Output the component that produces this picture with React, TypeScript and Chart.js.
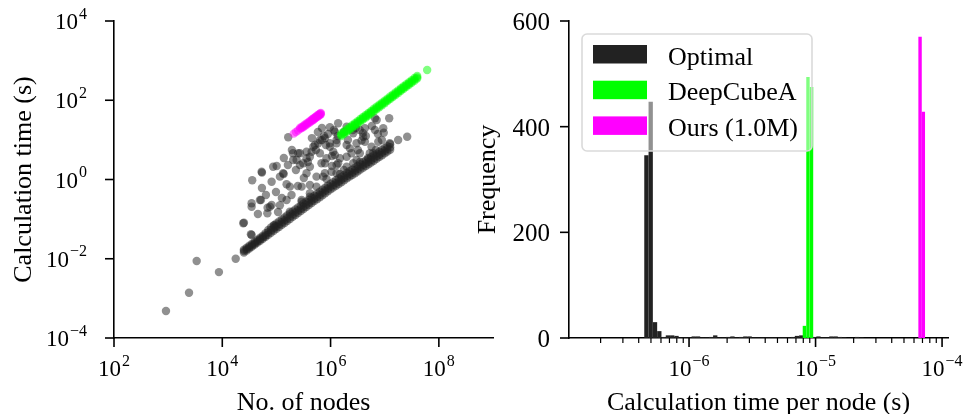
import React, { useEffect, useRef } from 'react';
import { Chart, registerables } from 'chart.js';
Chart.register(...registerables);

const FONT = '"Liberation Serif", "Times New Roman", serif';

// ---------------- Left panel: calculation time vs. number of nodes ----------------
const leftXTicks = [1e2, 1e4, 1e6, 1e8];
const leftYTicks = [1e-4, 1e-2, 1e0, 1e2, 1e4];

// Optimal: scattered points
const optimalScatterNodes = [
  912, 2430, 3365, 8670, 1.77e4, 3.38e4, 2.51e4, 3.48e4, 3.48e4, 5.18e4,
  6.87e4, 6.8e4, 8.15e4, 1.16e5, 9.1e4, 3.57e4, 5.4e4, 8.15e4, 1.01e5, 1.36e5,
  1.54e5, 1.65e5, 9.7e5, 5.9e5, 7.85e5, 9.7e5, 6.35e5, 5.13e5, 1.29e6, 1.12e6,
  4.47e5, 2.52e5, 3.12e5, 2.04e5, 3.6e5, 2.72e5, 4.15e5, 6.8e5, 8.4e5, 1.49e6,
  3.02e6, 3.95e6, 4.3e6, 3.47e6, 2.27e6, 6.6e6, 2.58e6, 1.29e6, 1.98e6, 1.04e6,
  7.85e5, 5.5e5, 3.6e5, 5.5e5, 4.15e5, 8.4e5, 1.49e6, 3.02e6, 6.1e6, 8.7e4,
  1.33e5, 5.33e4, 1.9e5, 2.92e5, 4.15e5, 4.95e4, 7.59e4, 1.77e5, 9.4e4, 2.44e4,
  3.48e4, 1.38e6, 1.98e6, 7.1e6, 1.21e7, 9.4e6, 9.6e6, 3.47e6, 4.0e6, 2.62e6,
  7.6e5, 9.7e5, 1.98e6, 3.74e6, 7.6e6, 5.7e6, 1.24e7, 1.77e7, 2.6e7, 1.2e6,
  2.44e6, 7.85e5, 1.38e6, 2.62e6, 1.29e6, 7.3e5, 4.3e6, 6.6e6, 4.8e5, 6.35e5,
  1.2e6, 5.3e6, 1.98e6, 4.15e5, 2.92e5, 4.15e5, 1.54e5, 2.02e5, 2.72e5, 2.36e5,
  3.6e5, 1.29e6, 1.16e5, 1.77e5, 2.92e5,
  5.83e5, 6.92e5, 8.93e5, 1.15e6, 4.52e5, 1.36e6, 8.2e5, 5.36e5, 1.06e6, 6.92e5,
  1.76e6, 2.09e6, 2.93e6, 4.49e6, 5.79e6, 7.48e6, 3.19e6, 4.89e6, 6.87e6, 8.85e6,
  1.93e5, 2.29e5, 3.21e5, 3.81e5, 2.49e5, 1.63e5, 1.37e5,
  5.4e4, 6.4e4, 9.8e4, 1.26e5, 4.55e4, 1.07e5,
  1.06e6, 1.76e6, 3.48e6,
];
const optimalScatterTimes = [
  4.8e-4, 1.39e-3, 8.8e-3, 4.6e-3, 1.0e-2, 0.0414, 0.0813, 0.251, 0.206, 0.304,
  0.194, 0.14, 0.227, 0.223, 0.07, 0.955, 1.49, 0.88, 2.19, 1.38,
  0.757, 11.6, 20.8, 8.2, 11.0, 6.7, 4.6, 7.4, 8.2, 5.0,
  5.0, 4.6, 2.56, 3.1, 3.43, 2.32, 2.1, 2.56, 3.43, 3.43,
  8.2, 14.9, 9.0, 4.6, 6.1, 17.7, 17.7, 2.32, 2.1, 1.57,
  1.44, 1.18, 1.44, 0.66, 0.726, 1.03, 1.38, 3.1, 4.6, 2.1,
  1.44, 1.57, 0.406, 0.304, 0.368, 0.304, 0.206, 0.154, 0.064, 0.0785,
  0.0397, 26.2, 21.5, 31.8, 35.1, 19.6, 15.2, 17.7, 12.0, 14.6,
  12.5, 8.2, 7.4, 9.6, 9.0, 6.7, 8.2, 9.9, 12.0, 4.15,
  4.6, 2.56, 2.56, 2.56, 1.44, 1.18, 19.6, 35.1, 6.7, 9.9,
  16.1, 4.6, 3.76, 3.76, 0.66, 0.449, 0.304, 4.6, 4.6, 3.1,
  5.0, 9.9, 1.18, 0.66, 0.276,
  15.8, 19.9, 14.1, 17.7, 11.1, 12.5, 7.43, 5.55, 3.92, 9.93,
  15.8, 9.93, 19.9, 12.5, 22.4, 14.1, 5.55, 3.49, 5.55, 9.93,
  5.55, 1.74, 1.09, 2.77, 0.686, 2.32, 3.49,
  0.61, 0.406, 0.484, 0.341, 0.135, 0.151,
  2.19, 1.74, 2.77,
];

// Optimal: dense band (three rows of points)
const optimalBandNodes = [
  2.51e4, 2.82e4, 3.16e4, 3.55e4, 3.98e4, 4.47e4, 5.01e4, 5.62e4, 6.31e4, 7.08e4,
  7.94e4, 8.91e4, 1.0e5, 1.12e5, 1.26e5, 1.41e5, 1.58e5, 1.78e5, 2.0e5, 2.24e5,
  2.51e5, 2.82e5, 3.16e5, 3.55e5, 3.98e5, 4.47e5, 5.01e5, 5.62e5, 6.31e5, 7.08e5,
  7.94e5, 8.91e5, 1.0e6, 1.12e6, 1.26e6, 1.41e6, 1.58e6, 1.78e6, 2.0e6, 2.24e6,
  2.51e6, 2.82e6, 3.16e6, 3.55e6, 3.98e6, 4.47e6, 5.01e6, 5.62e6, 6.31e6, 7.08e6,
  7.94e6, 8.91e6, 1.0e7, 1.12e7, 1.26e7,
];
const optimalBandTimesLow = [
  0.0143, 0.0161, 0.018, 0.0202, 0.0227, 0.0255, 0.0286, 0.032, 0.036, 0.0402,
  0.0451, 0.0506, 0.0568, 0.0636, 0.0716, 0.0801, 0.0894, 0.101, 0.114, 0.127,
  0.143, 0.16, 0.18, 0.201, 0.226, 0.254, 0.285, 0.319, 0.358, 0.402,
  0.451, 0.506, 0.568, 0.626, 0.699, 0.77, 0.856, 0.955, 1.07, 1.18,
  1.3, 1.44, 1.6, 1.79, 1.99, 2.19, 2.42, 2.68, 2.98, 3.32,
  3.69, 4.1, 4.56, 5.06, 5.63,
];
const optimalBandTimesMid = [
  0.0156, 0.0175, 0.0196, 0.022, 0.0247, 0.0277, 0.0311, 0.0348, 0.0391, 0.0467,
  0.0524, 0.0588, 0.066, 0.0739, 0.0832, 0.0931, 0.104, 0.117, 0.132, 0.148,
  0.166, 0.186, 0.209, 0.234, 0.263, 0.295, 0.331, 0.371, 0.416, 0.467,
  0.524, 0.588, 0.66, 0.728, 0.813, 0.895, 0.995, 1.11, 1.24, 1.37,
  1.51, 1.68, 1.86, 2.08, 2.31, 2.55, 2.81, 3.12, 3.47, 3.86,
  4.29, 4.77, 5.3, 5.88, 6.55,
];
const optimalBandTimesHigh = [
  0.017, 0.0191, 0.0214, 0.024, 0.0269, 0.0302, 0.0339, 0.0379, 0.044, 0.053,
  0.0618, 0.0694, 0.0779, 0.0872, 0.0982, 0.11, 0.123, 0.138, 0.156, 0.175,
  0.196, 0.219, 0.247, 0.276, 0.31, 0.348, 0.391, 0.438, 0.491, 0.551,
  0.618, 0.694, 0.779, 0.859, 0.959, 1.06, 1.17, 1.31, 1.46, 1.62,
  1.78, 1.98, 2.19, 2.45, 2.73, 3.01, 3.32, 3.68, 4.09, 4.55,
  5.06, 5.63, 6.25, 6.94, 7.73,
];

// DeepCubeA
const deepCubeNodes = [
  1.58e6, 1.78e6, 2.0e6, 2.24e6, 2.51e6, 2.82e6, 3.16e6, 3.55e6, 3.98e6, 4.47e6,
  5.01e6, 5.62e6, 6.31e6, 7.08e6, 7.94e6, 8.91e6, 1.0e7, 1.12e7, 1.26e7, 1.41e7,
  1.58e7, 1.78e7, 2.0e7, 2.24e7, 2.51e7, 2.82e7, 3.16e7, 3.55e7, 3.98e7,
];
const deepCubeTimesLow = [
  12.5, 14.1, 15.9, 17.9, 20.2, 22.8, 25.6, 28.9, 32.6, 36.6,
  41.3, 46.5, 52.4, 59.0, 66.5, 74.9, 84.4, 94.9, 107, 120,
  136, 153, 173, 194, 219, 246, 277, 312, 352,
];
const deepCubeTimesMid = [
  13.4, 15.2, 17.1, 19.3, 21.7, 24.5, 27.5, 31.1, 35.0, 39.4,
  44.4, 50.0, 56.3, 63.4, 71.5, 80.5, 90.7, 102, 115, 129,
  146, 165, 186, 209, 235, 265, 298, 336, 378,
];
const deepCubeTimesHigh = [
  14.5, 16.4, 18.5, 20.8, 23.4, 26.5, 29.7, 33.6, 37.8, 42.6,
  48.0, 54.0, 60.8, 68.5, 77.2, 86.9, 98.0, 110, 124, 139,
  158, 178, 201, 226, 254, 286, 322, 363, 408,
];
const deepCubeOutlierNodes = [6.08e7];
const deepCubeOutlierTimes = [581];

// Ours (1.0M)
const oursNodes = [
  2.09e5, 2.29e5, 2.51e5, 2.75e5, 2.95e5, 3.16e5, 3.39e5, 3.63e5, 3.89e5, 4.17e5,
  4.47e5, 4.68e5, 4.9e5, 5.13e5, 5.37e5, 5.62e5, 5.89e5, 6.17e5, 6.46e5, 6.61e5,
];
const oursTimes = [
  14.4, 15.8, 17.3, 19.0, 19.8, 21.2, 22.7, 24.3, 26.1, 27.9,
  29.9, 31.4, 32.8, 34.4, 36.0, 37.7, 39.5, 41.3, 43.3, 44.3,
];
const oursDenseNodes = [
  2.75e5, 2.95e5, 3.16e5, 3.39e5, 3.63e5, 3.89e5, 4.17e5, 4.47e5, 4.68e5, 4.9e5,
  5.13e5, 5.37e5, 5.62e5, 5.89e5, 6.17e5, 6.46e5, 6.61e5,
];
const oursDenseTimes = [
  20.3, 21.2, 22.8, 24.4, 26.1, 28.0, 30.0, 32.2, 33.7, 35.3,
  36.9, 38.7, 40.5, 42.4, 44.4, 46.5, 47.6,
];

// ---------------- Right panel: histogram of time per node ----------------
const rightXTicks = [1e-6, 1e-5, 1e-4];
const rightXMinorTicks = [
  2e-7, 3e-7, 4e-7, 5e-7, 6e-7, 7e-7, 8e-7, 9e-7,
  2e-6, 3e-6, 4e-6, 5e-6, 6e-6, 7e-6, 8e-6, 9e-6,
  2e-5, 3e-5, 4e-5, 5e-5, 6e-5, 7e-5, 8e-5, 9e-5,
];
const rightYTicks = [0, 200, 400, 600];

const optimalBinCenters = [
  4.603e-7, 4.977e-7, 5.383e-7, 5.821e-7, 6.295e-7, 6.808e-7, 7.362e-7, 7.962e-7, 8.61e-7, 9.311e-7,
  1.007e-6, 1.089e-6, 1.178e-6, 1.274e-6, 1.377e-6, 1.489e-6, 1.611e-6, 1.742e-6, 1.884e-6, 2.037e-6,
  2.203e-6, 2.382e-6, 2.576e-6, 2.786e-6, 3.013e-6, 3.258e-6, 3.524e-6, 3.811e-6, 4.121e-6, 4.457e-6,
  4.819e-6, 5.212e-6, 5.636e-6, 6.095e-6, 6.592e-6, 7.129e-6, 7.709e-6, 8.337e-6, 9.75e-6, 1.054e-5,
  1.14e-5, 1.233e-5, 1.334e-5, 1.442e-5, 1.56e-5, 1.687e-5, 2.133e-5, 2.307e-5,
];
const optimalCounts = [
  346, 447, 30, 13, 2, 5, 5, 4, 1, 1,
  1, 3, 3, 1, 1, 2, 5, 1, 1, 2,
  3, 1, 2, 3, 3, 1, 1, 1, 1, 1,
  1, 1, 1, 1, 2, 4, 5, 2, 2, 3,
  1, 1, 3, 3, 2, 1, 2, 1,
];
const deepCubeBinCenters = [8.166e-6, 8.71e-6, 9.29e-6];
const deepCubeCounts = [23, 494, 475];
const oursBinCenters = [6.7e-5, 7.11e-5];
const oursCounts = [570, 428];

const seriesLabels = ['Optimal', 'DeepCubeA', 'Ours (1.0M)'];
const seriesColors = ['#222222', '#00ff00', '#ff00ff'];

// ---------------- helpers ----------------
const pairs = (xs: number[], ys: number[]) => xs.map((x, i) => ({ x, y: ys[i] }));

function drawPow(ctx: CanvasRenderingContext2D, v: number, x: number, y: number, align: 'center' | 'right') {
  const e = Math.round(Math.log10(v));
  const base = '10';
  const exp = (e < 0 ? '\u2212' : '') + Math.abs(e);
  ctx.textAlign = 'left';
  ctx.textBaseline = 'alphabetic';
  ctx.font = `23px ${FONT}`;
  const w1 = ctx.measureText(base).width;
  ctx.font = `16px ${FONT}`;
  const w2 = ctx.measureText(exp).width;
  const total = w1 + 1 + w2;
  const x0 = align === 'center' ? x - total / 2 : x - total;
  ctx.font = `23px ${FONT}`;
  ctx.fillText(base, x0, y);
  ctx.font = `16px ${FONT}`;
  ctx.fillText(exp, x0 + w1 + 1, y - 10.5);
}

function tick(ctx: CanvasRenderingContext2D, x1: number, y1: number, x2: number, y2: number, w: number) {
  ctx.lineWidth = w;
  ctx.beginPath();
  ctx.moveTo(x1, y1);
  ctx.lineTo(x2, y2);
  ctx.stroke();
}

const leftDecor = {
  id: 'leftDecor',
  afterDraw(chart: any) {
    const { ctx, chartArea: a } = chart;
    const xs = chart.scales.x;
    const ys = chart.scales.y;
    ctx.save();
    ctx.fillStyle = '#000';
    ctx.strokeStyle = '#000';
    leftXTicks.forEach((v) => {
      const px = xs.getPixelForValue(v);
      tick(ctx, px, a.bottom, px, a.bottom + 9, 1.6);
      drawPow(ctx, v, px, 376, 'center');
    });
    leftYTicks.forEach((v) => {
      const py = ys.getPixelForValue(v);
      tick(ctx, a.left - 9, py, a.left, py, 1.6);
      drawPow(ctx, v, 87, py + 8, 'right');
    });
    ctx.font = `26px ${FONT}`;
    ctx.textAlign = 'center';
    ctx.textBaseline = 'alphabetic';
    ctx.fillText('No. of nodes', (a.left + a.right) / 2, 410);
    ctx.translate(31, (a.top + a.bottom) / 2);
    ctx.rotate(-Math.PI / 2);
    ctx.fillText('Calculation time (s)', 0, 0);
    ctx.restore();
  },
};

function roundRectPath(ctx: CanvasRenderingContext2D, x: number, y: number, w: number, h: number, r: number) {
  ctx.beginPath();
  ctx.moveTo(x + r, y);
  ctx.lineTo(x + w - r, y);
  ctx.arcTo(x + w, y, x + w, y + r, r);
  ctx.lineTo(x + w, y + h - r);
  ctx.arcTo(x + w, y + h, x + w - r, y + h, r);
  ctx.lineTo(x + r, y + h);
  ctx.arcTo(x, y + h, x, y + h - r, r);
  ctx.lineTo(x, y + r);
  ctx.arcTo(x, y, x + r, y, r);
  ctx.closePath();
}

const rightDecor = {
  id: 'rightDecor',
  afterDraw(chart: any) {
    const { ctx, chartArea: a } = chart;
    const xs = chart.scales.x;
    const ys = chart.scales.y;
    ctx.save();
    ctx.fillStyle = '#000';
    ctx.strokeStyle = '#000';
    rightXMinorTicks.forEach((v) => {
      const px = xs.getPixelForValue(v);
      tick(ctx, px, a.bottom, px, a.bottom + 5, 1.2);
    });
    rightXTicks.forEach((v) => {
      const px = xs.getPixelForValue(v);
      tick(ctx, px, a.bottom, px, a.bottom + 9, 1.6);
      drawPow(ctx, v, px, 376, 'center');
    });
    ctx.font = `25px ${FONT}`;
    ctx.textAlign = 'right';
    ctx.textBaseline = 'alphabetic';
    rightYTicks.forEach((v) => {
      const py = ys.getPixelForValue(v);
      tick(ctx, a.left - 9, py, a.left, py, 1.6);
      ctx.fillText(String(v), 550, py + 9);
    });
    ctx.font = `26px ${FONT}`;
    ctx.textAlign = 'center';
    ctx.fillText('Calculation time per node (s)', (a.left + a.right) / 2, 410);
    ctx.save();
    ctx.translate(495, (a.top + a.bottom) / 2);
    ctx.rotate(-Math.PI / 2);
    ctx.fillText('Frequency', 0, 0);
    ctx.restore();

    // legend
    roundRectPath(ctx, 582, 34, 230, 117, 5);
    ctx.fillStyle = 'rgba(255,255,255,0.5)';
    ctx.fill();
    ctx.strokeStyle = 'rgba(218,218,218,1)';
    ctx.lineWidth = 1.6;
    ctx.stroke();
    ctx.font = `26px ${FONT}`;
    ctx.textAlign = 'left';
    seriesLabels.forEach((label, i) => {
      const top = 45 + i * 35.7;
      ctx.fillStyle = seriesColors[i];
      ctx.fillRect(593, top, 54, 18.5);
      ctx.fillStyle = '#000';
      ctx.fillText(label, 668, top + 19.5);
    });
    ctx.restore();
  },
};

function baseScale(extra: any) {
  return {
    display: true,
    grid: { display: false, drawTicks: false },
    border: { display: true, color: '#000', width: 1.6 },
    ticks: { display: false },
    title: { display: false },
    ...extra,
  };
}

export default function App() {
  const leftRef = useRef<HTMLCanvasElement>(null);
  const rightRef = useRef<HTMLCanvasElement>(null);

  useEffect(() => {
    const pointStyle = (color: string) => ({
      backgroundColor: color,
      pointBackgroundColor: color,
      pointBorderWidth: 0,
      borderWidth: 0,
      pointRadius: 4.2,
      pointHoverRadius: 4.2,
      showLine: false,
    });
    const grey = 'rgba(34,34,34,0.5)';
    const green = 'rgba(0,255,0,0.5)';
    const magenta = 'rgba(255,0,255,0.5)';

    const left = new Chart(leftRef.current as HTMLCanvasElement, {
      type: 'scatter',
      data: {
        datasets: [
          { label: 'Ours (1.0M)', data: pairs(oursNodes, oursTimes), order: 1, ...pointStyle(magenta) },
          { label: 'Ours (1.0M) dense', data: pairs(oursDenseNodes, oursDenseTimes), order: 1, ...pointStyle(magenta) },
          { label: 'DeepCubeA low', data: pairs(deepCubeNodes, deepCubeTimesLow), order: 2, ...pointStyle(green) },
          { label: 'DeepCubeA mid', data: pairs(deepCubeNodes, deepCubeTimesMid), order: 2, ...pointStyle(green) },
          { label: 'DeepCubeA high', data: pairs(deepCubeNodes, deepCubeTimesHigh), order: 2, ...pointStyle(green) },
          { label: 'DeepCubeA outlier', data: pairs(deepCubeOutlierNodes, deepCubeOutlierTimes), order: 2, ...pointStyle(green) },
          { label: 'Optimal band low', data: pairs(optimalBandNodes, optimalBandTimesLow), order: 3, ...pointStyle(grey) },
          { label: 'Optimal band mid', data: pairs(optimalBandNodes, optimalBandTimesMid), order: 3, ...pointStyle(grey) },
          { label: 'Optimal band high', data: pairs(optimalBandNodes, optimalBandTimesHigh), order: 3, ...pointStyle(grey) },
          { label: 'Optimal', data: pairs(optimalScatterNodes, optimalScatterTimes), order: 3, ...pointStyle(grey) },
        ],
      },
      options: {
        responsive: false,
        animation: false,
        devicePixelRatio: 1,
        events: [],
        layout: { padding: { left: 0, top: 21, right: 475, bottom: 0 }, autoPadding: false },
        plugins: { legend: { display: false }, tooltip: { enabled: false } },
        scales: {
          x: baseScale({
            type: 'logarithmic', position: 'bottom', min: 1e2, max: 1e9,
            afterFit: (s: any) => { s.height = 76; },
          }),
          y: baseScale({
            type: 'logarithmic', position: 'left', min: 1e-4, max: 1e4,
            afterFit: (s: any) => { s.width = 114; },
          }),
        },
      } as any,
      plugins: [leftDecor],
    } as any);

    const barStyle = (color: string, thickness: number) => ({
      backgroundColor: color,
      borderWidth: 0,
      barThickness: thickness,
      grouped: false,
      inflateAmount: 0,
    });

    const right = new Chart(rightRef.current as HTMLCanvasElement, {
      type: 'bar',
      data: {
        datasets: [
          { label: seriesLabels[2], data: pairs(oursBinCenters, oursCounts), order: 1, ...barStyle(seriesColors[2], 3.4) },
          { label: seriesLabels[1], data: pairs(deepCubeBinCenters, deepCubeCounts), order: 2, ...barStyle(seriesColors[1], 3.4) },
          { label: seriesLabels[0], data: pairs(optimalBinCenters, optimalCounts), order: 3, ...barStyle(seriesColors[0], 4.3) },
        ],
      },
      options: {
        responsive: false,
        animation: false,
        devicePixelRatio: 1,
        events: [],
        layout: { padding: { left: 0, top: 21, right: 20, bottom: 0 }, autoPadding: false },
        plugins: { legend: { display: false }, tooltip: { enabled: false } },
        scales: {
          x: baseScale({
            type: 'logarithmic', position: 'bottom', min: 1.125e-7, max: 1.114e-4,
            offset: false,
            grid: { display: false, drawTicks: false, offset: false },
            afterFit: (s: any) => { s.height = 76; },
          }),
          y: baseScale({
            type: 'linear', position: 'left', min: 0, max: 600, stacked: false,
            afterFit: (s: any) => { s.width = 569; },
          }),
        },
      } as any,
      plugins: [rightDecor],
    } as any);

    return () => {
      left.destroy();
      right.destroy();
    };
  }, []);

  return (
    <div style={{ position: 'fixed', left: 0, top: 0, width: 968, height: 414, background: '#ffffff' }}>
      <canvas ref={leftRef} width={968} height={414} style={{ position: 'absolute', left: 0, top: 0 }} />
      <canvas ref={rightRef} width={968} height={414} style={{ position: 'absolute', left: 0, top: 0 }} />
    </div>
  );
}
